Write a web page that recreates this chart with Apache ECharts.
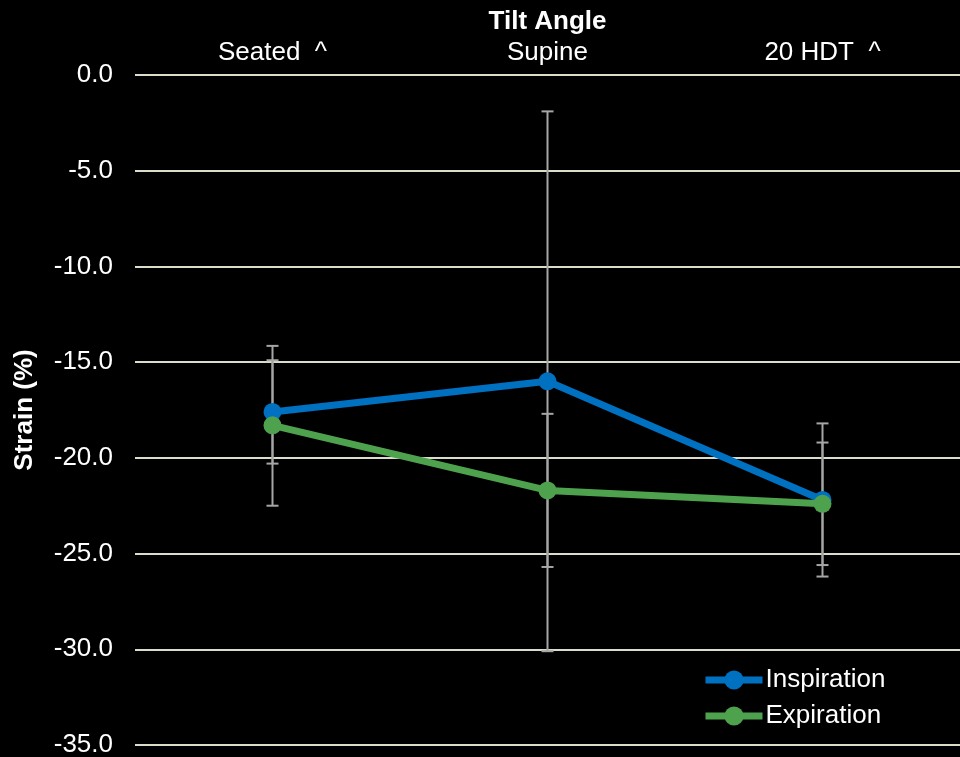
<!DOCTYPE html>
<html><head><meta charset="utf-8">
<script src="https://cdn.jsdelivr.net/npm/echarts@6/dist/echarts.min.js"></script>
<style>html,body{margin:0;padding:0;background:#000;}#c{width:960px;height:757px;}</style>
</head><body><div id="c"></div>
<script>
const categories = ['Seated  ^', 'Supine', '20 HDT  ^'];
const inspiration = [-17.6, -16.0, -22.2];
const expiration = [-18.3, -21.7, -22.4];
const inspErrLow = [-20.3, -30.1, -26.2];
const inspErrHigh = [-14.9, -1.9, -18.2];
const expErrLow = [-22.5, -25.7, -25.6];
const expErrHigh = [-14.15, -17.7, -19.2];

const FONT = '"Liberation Sans", Arial, sans-serif';
function errData(lo, hi){ return categories.map((c,i)=>[i, lo[i], hi[i]]); }
function errRender(params, api){
  const x = api.value(0);
  const p1 = api.coord([x, api.value(1)]);
  const p2 = api.coord([x, api.value(2)]);
  const hw = 6;
  const st = {stroke:'#a6a6a6', lineWidth:2};
  return {type:'group', children:[
    {type:'line', shape:{x1:p1[0],y1:p1[1],x2:p2[0],y2:p2[1]}, style:st},
    {type:'line', shape:{x1:p1[0]-hw,y1:p1[1],x2:p1[0]+hw,y2:p1[1]}, style:st},
    {type:'line', shape:{x1:p2[0]-hw,y1:p2[1],x2:p2[0]+hw,y2:p2[1]}, style:st}
  ]};
}
const chart = echarts.init(document.getElementById('c'));
chart.setOption({
  backgroundColor:'#000',
  animation:false,
  grid:{left:135, right:0, top:75, bottom:12, outerBoundsMode:'none', containLabel:false},
  legend:{
    data:['Inspiration','Expiration'],
    orient:'vertical', left:702, top:667, padding:0, itemWidth:57, itemHeight:24, itemGap:10,
    lineStyle:{width:7},
    textStyle:{color:'#fff', fontSize:26, fontFamily:FONT, padding:[0,0,0,-2]}
  },
  xAxis:{
    type:'category', data:categories, position:'top', boundaryGap:true,
    axisLine:{show:false}, axisTick:{show:false}, splitLine:{show:false},
    axisLabel:{color:'#fff', fontSize:26, fontFamily:FONT, margin:9},
    name:'Tilt Angle', nameLocation:'middle', nameGap:39,
    nameTextStyle:{color:'#fff', fontSize:26, fontWeight:'bold', fontFamily:FONT}
  },
  yAxis:{
    type:'value', min:-35, max:0, interval:5,
    axisLine:{show:false}, axisTick:{show:false},
    splitLine:{lineStyle:{color:'#dcdccb', width:2}},
    axisLabel:{color:'#fff', fontSize:26, fontFamily:FONT, margin:22, formatter:v=>v.toFixed(1)},
    name:'Strain (%)', nameLocation:'middle', nameGap:97,
    nameTextStyle:{color:'#fff', fontSize:26, fontWeight:'bold', fontFamily:FONT}
  },
  series:[
    {type:'custom', renderItem:errRender, data:errData(inspErrLow, inspErrHigh), z:1, silent:true},
    {type:'custom', renderItem:errRender, data:errData(expErrLow, expErrHigh), z:1, silent:true},
    {name:'Inspiration', type:'line', data:inspiration, z:3, symbol:'circle', symbolSize:18,
     lineStyle:{color:'#0070c0', width:7}, itemStyle:{color:'#0070c0'}},
    {name:'Expiration', type:'line', data:expiration, z:4, symbol:'circle', symbolSize:18,
     lineStyle:{color:'#4ea24e', width:7}, itemStyle:{color:'#4ea24e'}}
  ]
});
</script></body></html>
